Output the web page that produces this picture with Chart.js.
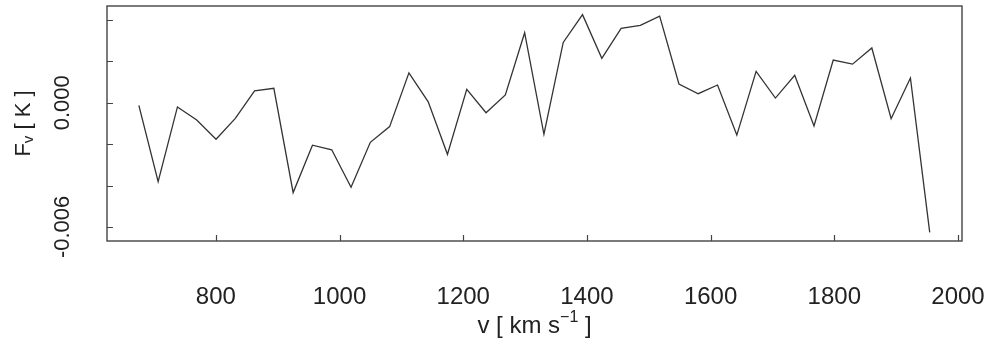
<!DOCTYPE html>
<html>
<head>
<meta charset="utf-8">
<script src="https://cdn.jsdelivr.net/npm/chart.js@4.4.1/dist/chart.umd.min.js"></script>
<style>
  html, body { margin: 0; padding: 0; background: #fff; }
  #wrap { width: 990px; height: 349px; }
</style>
</head>
<body>
<div id="wrap"><canvas id="spec" width="990" height="349"></canvas></div>
<script>
// channel velocities (km/s) and flux (K)
var velocity = [675.5, 706.7, 737.9, 769.1, 800.3, 831.5, 862.6, 893.8, 925.0, 956.2,
    987.4, 1018.6, 1049.8, 1081.0, 1112.2, 1143.4, 1174.5, 1205.7, 1236.9, 1268.1,
    1299.3, 1330.5, 1361.7, 1392.9, 1424.1, 1455.3, 1486.4, 1517.6, 1548.8, 1580.0,
    1611.2, 1642.4, 1673.6, 1704.8, 1736.0, 1767.2, 1798.3, 1829.5, 1860.7, 1891.9,
    1923.1, 1954.3];
var flux = [-0.00012, -0.00381, -0.00020, -0.00083, -0.00176, -0.00075, 0.00058, 0.00070, -0.00434, -0.00205,
    -0.00227, -0.00408, -0.00191, -0.00115, 0.00145, 0.00005, -0.00249, 0.00065, -0.00048, 0.00038,
    0.00339, -0.00152, 0.00292, 0.00426, 0.00215, 0.00360, 0.00374, 0.00419, 0.00091, 0.00044,
    0.00086, -0.00156, 0.00152, 0.00023, 0.00133, -0.00112, 0.00207, 0.00187, 0.00265, -0.00077,
    0.00120, -0.00626];

var xTicks = [800, 1000, 1200, 1400, 1600, 1800, 2000];
var yTicks = [-0.006, -0.004, -0.002, 0, 0.002, 0.004];
var yTickLabels = ['-0.006', '', '', '0.000', '', ''];

var FONT = '"Liberation Sans", Arial, Helvetica, sans-serif';
var INK = '#222';

// draw a label made of pieces (for sub/superscripts), centred on cx,cy
function drawPieces(ctx, pieces, cx, cy, angle) {
    ctx.save();
    ctx.translate(cx, cy);
    ctx.rotate(angle);
    ctx.textBaseline = 'middle';
    ctx.textAlign = 'left';
    var total = 0;
    pieces.forEach(function (p) {
        ctx.font = p.size + 'px ' + FONT;
        p.w = ctx.measureText(p.t).width;
        total += p.w;
    });
    var x = -total / 2;
    pieces.forEach(function (p) {
        ctx.font = p.size + 'px ' + FONT;
        ctx.fillStyle = INK;
        ctx.fillText(p.t, x, p.dy || 0);
        x += p.w;
    });
    ctx.restore();
}

var framePlugin = {
    id: 'frame',
    afterDraw: function (chart) {
        var ctx = chart.ctx;
        var a = chart.chartArea;
        var xs = chart.scales.x, ys = chart.scales.y;

        ctx.save();
        ctx.strokeStyle = '#444';
        ctx.lineWidth = 1.4;
        ctx.strokeRect(a.left, a.top, a.right - a.left, a.bottom - a.top);

        // inward tick marks
        ctx.lineWidth = 1.2;
        ctx.beginPath();
        yTicks.forEach(function (v) {
            var py = Math.round(ys.getPixelForValue(v)) + 0.5;
            ctx.moveTo(a.left, py);
            ctx.lineTo(a.left + 6, py);
        });
        xTicks.forEach(function (v) {
            var px = Math.round(xs.getPixelForValue(v)) + 0.5;
            ctx.moveTo(px, a.bottom);
            ctx.lineTo(px, a.bottom - 6);
        });
        ctx.stroke();
        ctx.restore();

        // y tick labels, rotated like R
        yTicks.forEach(function (v, i) {
            if (!yTickLabels[i]) return;
            drawPieces(ctx, [{t: yTickLabels[i], size: 22}], 63, ys.getPixelForValue(v), -Math.PI / 2);
        });

        // axis titles
        drawPieces(ctx, [
            {t: 'F', size: 22},
            {t: 'v', size: 15, dy: 5},
            {t: ' [ K ]', size: 22}
        ], 24, (a.top + a.bottom) / 2, -Math.PI / 2);

        drawPieces(ctx, [
            {t: 'v [ km s', size: 24},
            {t: '\u22121', size: 16, dy: -8},
            {t: ' ]', size: 24}
        ], (a.left + a.right) / 2, 326, 0);
    }
};

var points = velocity.map(function (v, i) { return {x: v, y: flux[i]}; });

new Chart(document.getElementById('spec').getContext('2d'), {
    type: 'line',
    data: {
        datasets: [{
            data: points,
            borderColor: '#333',
            borderWidth: 1.3,
            pointRadius: 0,
            tension: 0,
            fill: false
        }]
    },
    options: {
        responsive: false,
        animation: false,
        devicePixelRatio: 1,
        layout: { padding: { top: 6, right: 28, bottom: 0, left: 0 } },
        plugins: { legend: { display: false }, tooltip: { enabled: false } },
        scales: {
            x: {
                type: 'linear',
                min: 624,
                max: 2006.5,
                grid: { display: false },
                border: { display: false },
                ticks: {
                    color: INK,
                    font: { family: FONT, size: 24 },
                    maxRotation: 0,
                    padding: 34,
                    callback: function (v) { return String(v); }
                },
                afterBuildTicks: function (s) {
                    s.ticks = xTicks.map(function (v) { return {value: v}; });
                },
                afterFit: function (s) {
                    s.height = 108;
                    s.paddingLeft = 0;
                    s.paddingRight = 0;
                }
            },
            y: {
                type: 'linear',
                min: -0.00668,
                max: 0.00468,
                grid: { display: false },
                border: { display: false },
                ticks: { display: false },
                afterBuildTicks: function (s) {
                    s.ticks = yTicks.map(function (v) { return {value: v}; });
                },
                afterFit: function (s) { s.width = 107; }
            }
        }
    },
    plugins: [framePlugin]
});
</script>
</body>
</html>
